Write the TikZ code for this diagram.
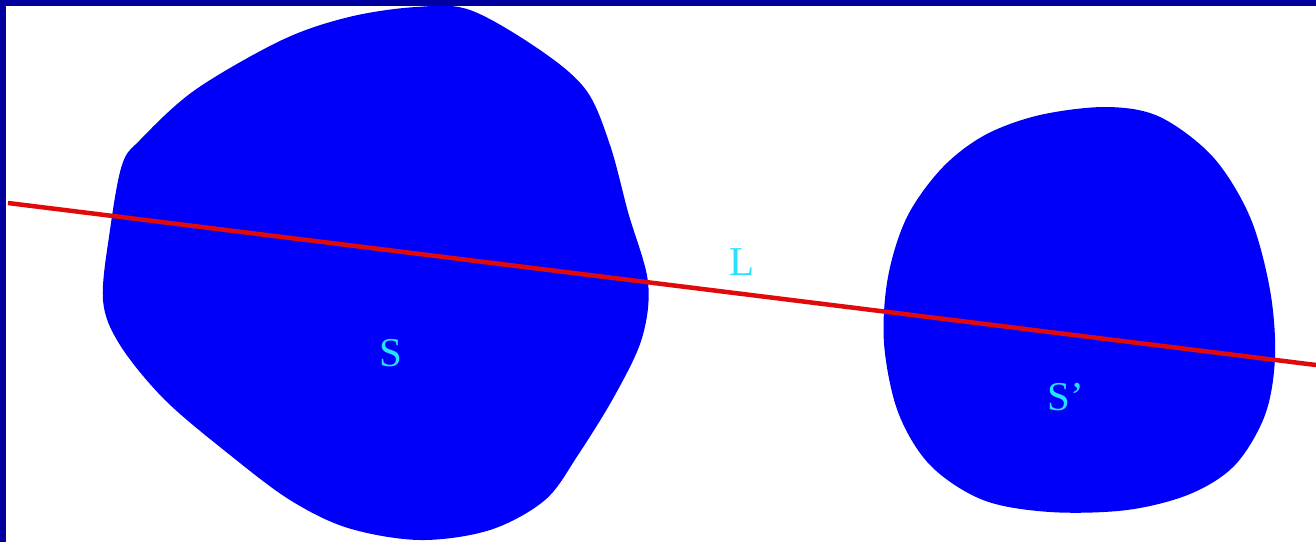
\documentclass[tikz,border=0pt]{standalone}
\usepackage{fontspec}
\setmainfont{Liberation Serif}
\definecolor{frame}{RGB}{0,0,160}
\definecolor{blob}{RGB}{0,0,250}
\definecolor{lab}{RGB}{40,225,255}
\definecolor{linered}{RGB}{225,10,10}
\begin{document}
\begin{tikzpicture}[x=1pt,y=-1pt,
  blobfill/.style={fill=blob,draw=none},
  labeltext/.style={text=lab,font=\fontsize{41}{43}\selectfont,inner sep=0pt}]
\useasboundingbox (0,0) rectangle (1316,542);
\fill[white] (0,0) rectangle (1316,542);
\fill[frame] (0,0) rectangle (1316,6);
\fill[frame] (0,0) rectangle (6,542);
% blob S
\fill[blobfill] plot[smooth cycle, tension=0.55] coordinates {
 (416,7) (470,10) (540,50) (586,90) (610,145) (628,212) (648,282)
 (642,338) (615,395) (578,455) (545,500) (490,530) (420,540) (348,528)
 (290,500) (230,455) (165,400) (120,345) (103,300) (110,230) (122,165)
 (140,140) (195,90) (282,40) (349,17)};
% blob S'
\fill[blobfill] plot[smooth cycle, tension=0.55] coordinates {
 (1107,107) (1160,117) (1213,157) (1250,217) (1270,290) (1275,357)
 (1265,415) (1235,465) (1190,494) (1127,510) (1050,512) (983,500)
 (930,465) (898,412) (884,343) (888,277) (907,217) (942,168) (985,135)
 (1040,115)};
\coordinate (l1) at (8,203);
\coordinate (l2) at (1316,365);
\draw[linered, line width=4.5pt] (l1) -- (l2);
\node[labeltext] (s) at (391,353) {S};
\node[labeltext] (l) at (742,262) {L};
\node[labeltext] (s2) at (1066,397) {S'};
\end{tikzpicture}
\end{document}
